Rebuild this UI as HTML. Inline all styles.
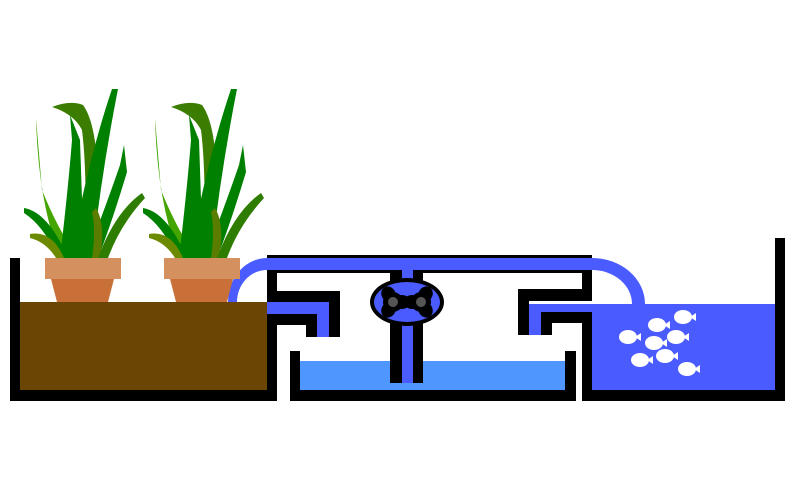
<!DOCTYPE html>
<html><head><meta charset="utf-8"><style>html,body{margin:0;padding:0;background:#fff}svg{display:block}</style></head>
<body>
<svg width="800" height="500" viewBox="0 0 800 500" xmlns="http://www.w3.org/2000/svg">
<defs>
<g id="plant">
  <path d="M52,107 Q70,100 83,105 Q94,120 97,160 L94,240 L85,240 Q87,170 82,130 Q74,114 52,107Z" fill="#3a7d00"/>
  <path d="M36,118 L42,190 Q58,230 78,258 L60,258 Q38,200 36,118Z" fill="#44a500"/>
  <path d="M70,115 L80,140 L84,258 L60,258 Q68,190 72,140 Z" fill="#008000"/>
  <path d="M112,89 L118,89 Q102,170 92,258 L70,258 Q88,160 112,89Z" fill="#008000"/>
  <path d="M124,145 L127,172 Q112,222 98,258 L86,258 Q108,200 120,165Z" fill="#008000"/>
  <path d="M96,208 Q106,225 100,258 L92,258 Q96,230 92,212Z" fill="#5a7d00"/>
  <path d="M24,208 Q48,212 68,258 L58,258 Q44,226 24,213Z" fill="#008000"/>
  <path d="M30,234 Q52,230 64,258 L56,258 Q46,242 30,238Z" fill="#6b8a00"/>
  <path d="M98,258 Q115,212 142,193 L145,198 Q120,225 108,258Z" fill="#2e7d00"/>
  <rect x="45" y="258" width="76" height="21" fill="#d4905e"/>
  <path d="M51,279 L114,279 L108,302 L57,302Z" fill="#c87038"/>
</g>
<g id="fish"><ellipse cx="0" cy="0" rx="9" ry="7" fill="#fff"/><path d="M7,0 L13,-4 L13,4Z" fill="#fff"/></g>
<g id="rotor" fill="#000">
  <circle r="10"/>
  <ellipse cx="0" cy="-9" rx="7" ry="8"/>
  <ellipse cx="0" cy="-9" rx="7" ry="8" transform="rotate(120)"/>
  <ellipse cx="0" cy="-9" rx="7" ry="8" transform="rotate(240)"/>
  <circle r="5" fill="#555"/>
</g>
</defs>
<rect x="20" y="302" width="247" height="89" fill="#6b4504"/>
<path d="M10,258 H20 V390 H267 V270 H277 V401 H10Z" fill="#000"/>
<rect x="267" y="255" width="325" height="3" fill="#000"/>
<path d="M228,302 A39,44 0 0 1 267,258 H592 A53,46 0 0 1 645,304 H632 A40,34 0 0 0 592,270 H267 A30,32 0 0 0 237,302Z" fill="#4a5cff"/>
<rect x="267" y="270" width="123" height="3" fill="#000"/>
<rect x="423" y="270" width="169" height="3" fill="#000"/>
<rect x="277" y="291" width="63" height="11" fill="#000"/>
<rect x="329" y="291" width="11" height="46" fill="#000"/>
<rect x="267" y="302" width="62" height="12" fill="#4a5cff"/>
<rect x="317" y="302" width="12" height="35" fill="#4a5cff"/>
<rect x="277" y="314" width="40" height="11" fill="#000"/>
<rect x="306" y="314" width="11" height="23" fill="#000"/>
<rect x="582" y="270" width="10" height="21" fill="#000"/>
<rect x="518" y="289" width="74" height="12" fill="#000"/>
<rect x="518" y="289" width="11" height="46" fill="#000"/>
<rect x="529" y="304" width="63" height="12" fill="#4a5cff"/>
<rect x="529" y="304" width="12" height="31" fill="#4a5cff"/>
<rect x="541" y="312" width="51" height="11" fill="#000"/>
<rect x="541" y="312" width="11" height="23" fill="#000"/>
<rect x="300" y="361" width="265" height="29" fill="#4f97ff"/>
<path d="M290,351 H300 V390 H565 V351 H576 V401 H290Z" fill="#000"/>
<rect x="390" y="270" width="33" height="113" fill="#000"/>
<rect x="402" y="258" width="11" height="125" fill="#4a5cff"/>
<ellipse cx="407" cy="302" rx="37" ry="24" fill="#000"/>
<ellipse cx="407" cy="302" rx="33" ry="20" fill="#4a5cff"/>
<g transform="translate(393,302) rotate(-30)"><use href="#rotor"/></g>
<g transform="translate(421,302) rotate(30)"><use href="#rotor"/></g>
<rect x="592" y="304" width="183" height="86" fill="#4a5cff"/>
<path d="M582,323 H592 V390 H775 V238 H785 V401 H582Z" fill="#000"/>
<use href="#fish" x="683" y="317"/>
<use href="#fish" x="657" y="325"/>
<use href="#fish" x="628" y="337"/>
<use href="#fish" x="654" y="343"/>
<use href="#fish" x="676" y="337"/>
<use href="#fish" x="665" y="356"/>
<use href="#fish" x="640" y="360"/>
<use href="#fish" x="687" y="369"/>
<use href="#plant" x="0" y="0"/>
<use href="#plant" x="119" y="0"/>
</svg>
</body></html>
